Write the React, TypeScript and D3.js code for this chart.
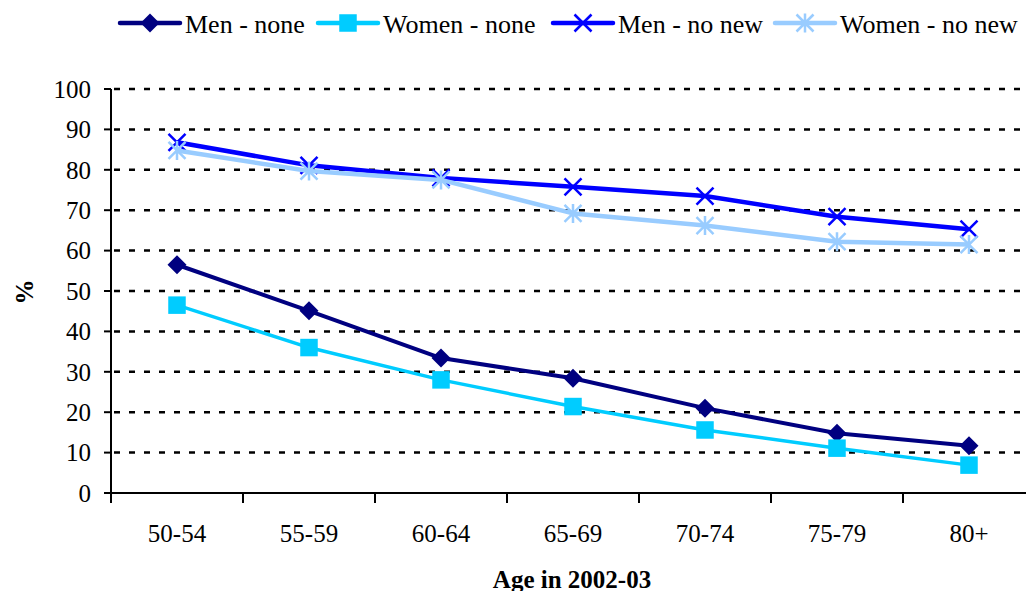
import React from 'react';
import * as d3 from 'd3';

const ageGroups = ['50-54', '55-59', '60-64', '65-69', '70-74', '75-79', '80+'];
const menNone = [56.5, 45.1, 33.4, 28.4, 21.0, 14.8, 11.7];
const womenNone = [46.5, 36.0, 28.0, 21.4, 15.6, 11.1, 6.9];
const menNoNew = [86.8, 81.1, 78.0, 75.8, 73.5, 68.4, 65.3];
const womenNoNew = [84.8, 79.7, 77.5, 69.2, 66.2, 62.2, 61.5];
const yTicks = [0, 10, 20, 30, 40, 50, 60, 70, 80, 90, 100];

type MarkerKind = 'diamond' | 'square' | 'cross' | 'star';

const series: { name: string; values: number[]; color: string; width: number; marker: MarkerKind }[] = [
  { name: 'Men - none', values: menNone, color: '#000080', width: 4, marker: 'diamond' },
  { name: 'Women - none', values: womenNone, color: '#00CCFF', width: 3.5, marker: 'square' },
  { name: 'Men - no new', values: menNoNew, color: '#0000FF', width: 4.5, marker: 'cross' },
  { name: 'Women - no new', values: womenNoNew, color: '#99CCFF', width: 4.5, marker: 'star' },
];

const legendX = [120, 318, 553, 775];
const textStyle: React.CSSProperties = { fontFamily: "'Liberation Serif', 'DejaVu Serif', serif" };

const Marker: React.FC<{ kind: MarkerKind; x: number; y: number; color: string }> = ({ kind, x, y, color }) => {
  if (kind === 'diamond') {
    const r = 9.5;
    return <path d={`M${x},${y - r}L${x + r},${y}L${x},${y + r}L${x - r},${y}Z`} fill={color} />;
  }
  if (kind === 'square') {
    const s = 17.5;
    return <rect x={x - s / 2} y={y - s / 2} width={s} height={s} fill={color} />;
  }
  const r = 8.5;
  const cross = `M${x - r},${y - r}L${x + r},${y + r}M${x - r},${y + r}L${x + r},${y - r}`;
  if (kind === 'cross') {
    return <path d={cross} stroke={color} strokeWidth={2.5} fill="none" />;
  }
  return <path d={`${cross}M${x},${y - r - 1}L${x},${y + r + 1}`} stroke={color} strokeWidth={2.5} fill="none" />;
};

export default function App() {
  const width = 1026;
  const height = 591;
  const left = 111;
  const right = 1035;
  const top = 89;
  const bottom = 493;

  const x = d3.scaleBand<string>().domain(ageGroups).range([left, right]).padding(0);
  const cx = (g: string) => (x(g) ?? 0) + x.bandwidth() / 2;
  const y = d3.scaleLinear().domain([0, 100]).range([bottom, top]);

  const line = d3
    .line<number>()
    .x((_, i) => cx(ageGroups[i]))
    .y((d) => y(d));

  return (
    <svg
      width={width}
      height={height}
      style={{ position: 'absolute', left: 0, top: 0, background: '#fff' }}
    >
      {/* gridlines */}
      {yTicks.filter((t) => t > 0).map((t) => (
        <line
          key={t}
          x1={left}
          x2={right}
          y1={y(t)}
          y2={y(t)}
          stroke="#000"
          strokeWidth={2.5}
          strokeDasharray="6 9"
          strokeDashoffset={-3}
        />
      ))}

      {/* axes */}
      <line x1={left} x2={left} y1={top} y2={bottom} stroke="#000" strokeWidth={2} />
      <line x1={left} x2={right} y1={bottom} y2={bottom} stroke="#000" strokeWidth={2} />
      {yTicks.map((t) => (
        <g key={t}>
          <line x1={left - 7} x2={left} y1={y(t)} y2={y(t)} stroke="#000" strokeWidth={2} />
          <text x={91} y={y(t)} dy="0.35em" textAnchor="end" fontSize={25} style={textStyle}>
            {t}
          </text>
        </g>
      ))}
      {ageGroups.map((g) => (
        <text key={g} x={cx(g)} y={542} textAnchor="middle" fontSize={25} style={textStyle}>
          {g}
        </text>
      ))}
      {d3.range(ageGroups.length + 1).map((i) => {
        const px = left + i * x.bandwidth();
        return <line key={i} x1={px} x2={px} y1={bottom} y2={bottom + 10} stroke="#000" strokeWidth={2} />;
      })}

      {/* titles */}
      <text x={572} y={588} textAnchor="middle" fontSize={25} fontWeight="bold" style={textStyle}>
        Age in 2002-03
      </text>
      <text
        transform="translate(33,292) rotate(-90)"
        textAnchor="middle"
        fontSize={25}
        fontWeight="bold"
        style={textStyle}
      >
        %
      </text>

      {/* series */}
      {series.map((s) => (
        <g key={s.name}>
          <path d={line(s.values) ?? ''} fill="none" stroke={s.color} strokeWidth={s.width} strokeLinejoin="round" />
          {s.values.map((v, i) => (
            <Marker key={i} kind={s.marker} x={cx(ageGroups[i])} y={y(v)} color={s.color} />
          ))}
        </g>
      ))}

      {/* legend */}
      {series.map((s, i) => {
        const lx = legendX[i];
        return (
          <g key={s.name}>
            <line x1={lx} x2={lx + 60} y1={23} y2={23} stroke={s.color} strokeWidth={4.5} strokeLinecap="round" />
            <Marker kind={s.marker} x={lx + 30} y={23} color={s.color} />
            <text x={lx + 65} y={33} fontSize={26} style={textStyle}>
              {s.name}
            </text>
          </g>
        );
      })}
    </svg>
  );
}
